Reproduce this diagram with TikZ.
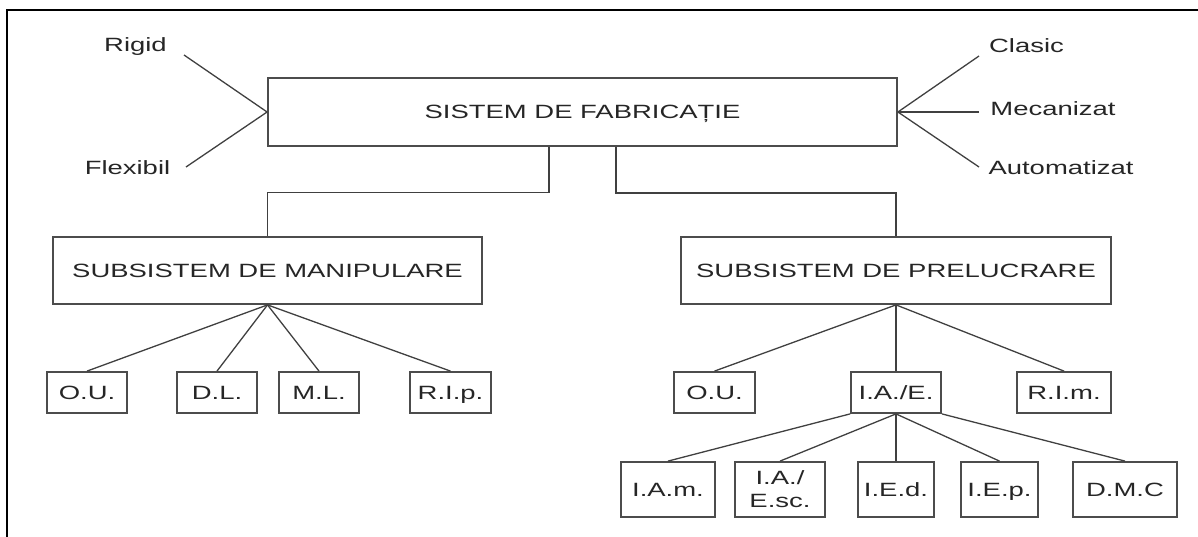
\documentclass[tikz,border=0pt]{standalone}
\usepackage{fontspec}
\setmainfont{Liberation Sans}[FakeStretch=1.43]
\begin{document}
\begin{tikzpicture}[x=1pt,y=-1pt,
  every node/.style={font=\fontsize{19.2}{23}\selectfont, text=black!85},
  box/.style={draw=black!70, line width=1.8pt, inner sep=0pt, text depth=0pt, text height=13.7pt},
  box2/.style={draw=black!70, line width=1.8pt, inner sep=0pt, align=center},
  lnk/.style={draw=black!75, line width=1.3pt},
  lbl/.style={anchor=base, inner sep=0pt}]
\useasboundingbox (0,0) rectangle (1198,537);
% frame
\draw[black, line width=2pt] (6.5,537) -- (6.5,10.5) -- (1198,10.5);

% main
\node[box, minimum width=629pt, minimum height=68pt] (main) at (582.5,112) {SISTEM DE FABRICAȚIE};

% side labels
\node[lbl] (rigid) at (135.5,52) {Rigid};
\node[lbl] (flex) at (127.5,174.3) {Flexibil};
\node[lbl] (clasic) at (1026.5,52.3) {Clasic};
\node[lbl] (mec) at (1053,116) {Mecanizat};
\node[lbl] (auto) at (1061,174.3) {Automatizat};
\coordinate (rigidE) at (184,55);
\coordinate (flexE) at (186,167);
\coordinate (clasicE) at (979,56);
\coordinate (mecE) at (979,112);
\coordinate (autoE) at (979,167);
\draw[lnk] (rigidE) -- (main.west);
\draw[lnk] (flexE) -- (main.west);
\draw[lnk] (clasicE) -- (main.east);
\draw[lnk] (mecE) -- (main.east);
\draw[lnk] (autoE) -- (main.east);

% subsystems
\node[box, minimum width=429pt, minimum height=67pt] (manip) at (267.5,270.5) {SUBSISTEM DE MANIPULARE};
\node[box, minimum width=430pt, minimum height=67pt] (prel) at (896,270.5) {SUBSISTEM DE PRELUCRARE};
\draw[lnk] ([xshift=-33.5pt]main.south) -- ++(0,45.5) -| (manip.north);
\draw[lnk] ([xshift=33.5pt]main.south) -- ++(0,46) -| (prel.north);

% left level 2
\node[box, minimum width=80pt, minimum height=41pt] (ou1) at (87,392.5) {O.U.};
\node[box, minimum width=80pt, minimum height=41pt] (dl) at (217,392.5) {D.L.};
\node[box, minimum width=80pt, minimum height=41pt] (ml) at (319,392.5) {M.L.};
\node[box, minimum width=81pt, minimum height=41pt] (rip) at (450.5,392.5) {R.I.p.};
\foreach \n in {ou1,dl,ml,rip} \draw[lnk] (manip.south) -- (\n.north);

% right level 2
\node[box, minimum width=81pt, minimum height=41pt] (ou2) at (714.5,392.5) {O.U.};
\node[box, minimum width=90pt, minimum height=41pt] (iae) at (896,392.5) {I.A./E.};
\node[box, minimum width=94pt, minimum height=41pt] (rim) at (1064,392.5) {R.I.m.};
\foreach \n in {ou2,iae,rim} \draw[lnk] (prel.south) -- (\n.north);

% level 3
\node[box, minimum width=94pt, minimum height=55pt] (iam) at (668,489.5) {I.A.m.};
\node[box2, minimum width=90pt, minimum height=55pt] (iaesc) at (780,489.5) {I.A./\\E.sc.};
\node[box, minimum width=76pt, minimum height=55pt] (ied) at (896,489.5) {I.E.d.};
\node[box, minimum width=77pt, minimum height=55pt] (iep) at (999.5,489.5) {I.E.p.};
\node[box, minimum width=104pt, minimum height=55pt] (dmc) at (1125,489.5) {D.M.C};
\draw[lnk] (iae.south west) -- (iam.north);
\draw[lnk] (iae.south) -- (iaesc.north);
\draw[lnk] (iae.south) -- (ied.north);
\draw[lnk] (iae.south) -- (iep.north);
\draw[lnk] (iae.south east) -- (dmc.north);
\end{tikzpicture}
\end{document}
